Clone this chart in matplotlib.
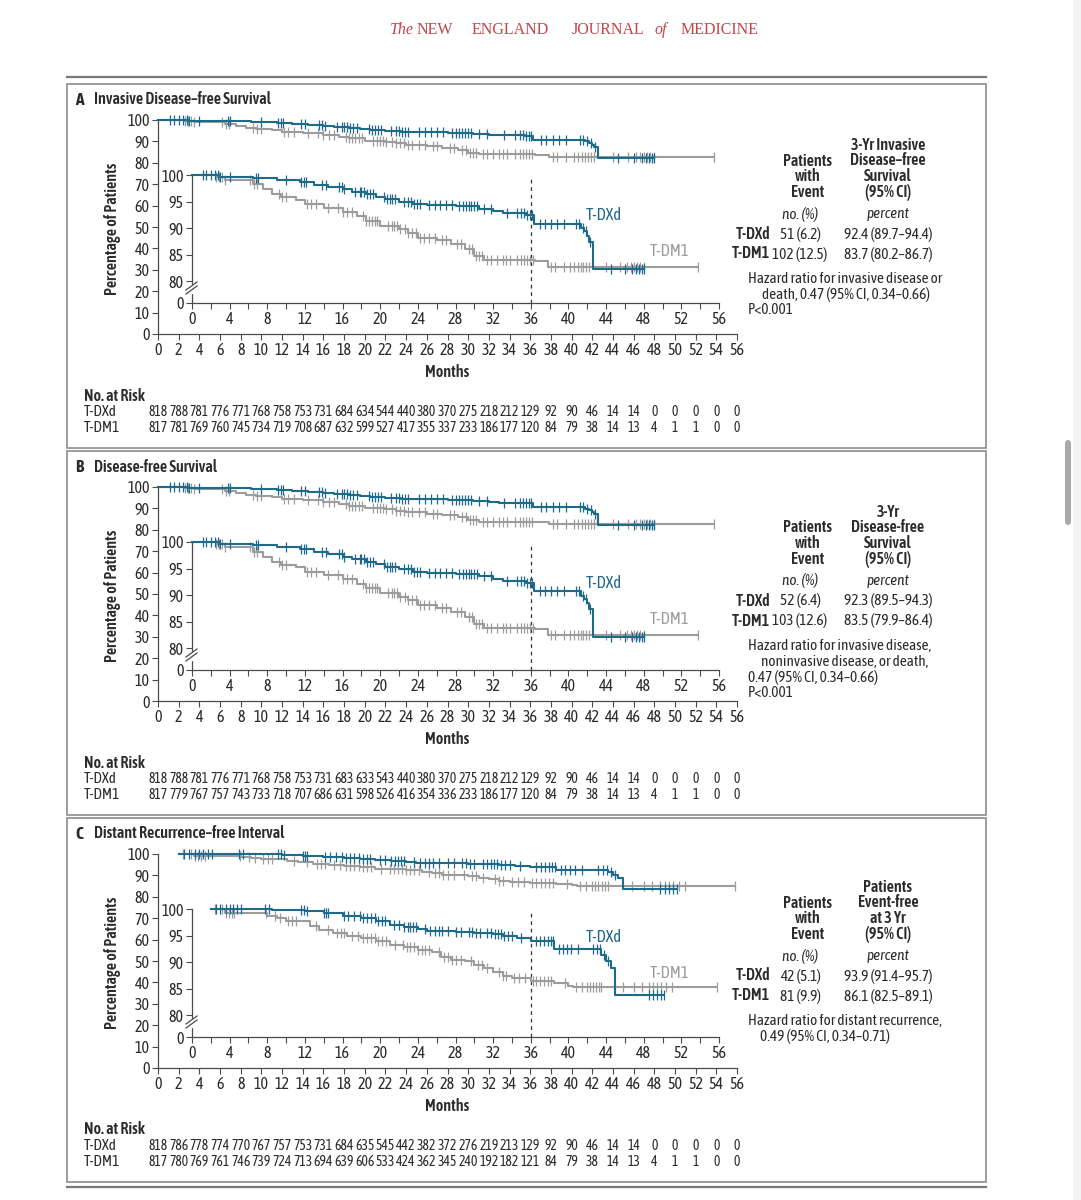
import numpy as np
import matplotlib.pyplot as plt
from matplotlib.lines import Line2D
from matplotlib.patches import Rectangle, FancyBboxPatch
from matplotlib import transforms

# ---------------- data ----------------
months_risk = list(range(0, 57, 2))

# Panel A - invasive disease-free survival
a_dxd_t = [0, 3, 6.5, 9, 11.5, 13, 14.5, 16, 17, 18.5, 19.5, 20.5, 22, 23.5, 25, 28, 30.5, 32, 33, 35.5, 36.3, 41.3, 41.7, 42.0, 42.2, 42.6, 48.0]
a_dxd_s = [100, 99.7, 99.4, 99.1, 98.6, 98.2, 97.8, 97.3, 96.8, 96.4, 95.9, 95.4, 95.0, 94.5, 94.3, 94.1, 93.6, 93.2, 92.8, 92.4, 90.8, 90.0, 89.4, 88.5, 87.4, 82.2, 82.2]
a_dxd_cens = [1.2, 1.5, 2.0, 2.4, 2.8, 3.0, 4.0, 6.8, 7.0, 10.0, 11.6, 11.9, 12.1, 13.8, 14.2, 15.6, 15.9, 16.2, 17.3, 17.8, 18.0, 18.3, 18.6, 18.9, 19.2,
              20.4, 20.7, 21.0, 21.3, 21.6, 22.5, 23.0, 23.3, 23.6, 23.9, 24.2, 25.2, 25.8, 26.4, 27.0, 27.6, 28.4, 28.8, 29.1, 29.4, 29.7, 30.0, 30.3,
              31.0, 31.8, 33.5, 34.5, 35.0, 35.3, 35.6, 35.9, 36.1, 37.0, 37.5, 38.2, 38.8, 39.5, 40.8, 41.1, 41.5, 41.9, 42.3, 44.5, 46.0, 46.8, 47.2,
              47.5, 47.8, 48.0]
a_dm1_t = [0, 2.5, 3.5, 6.5, 7.5, 8.5, 9.5, 11, 12, 14, 16, 17.5, 18.5, 20, 22, 23, 24, 26, 27.5, 29, 30, 31, 36.5, 37.8, 53.8]
a_dm1_s = [100, 99.6, 99.1, 98.3, 97.3, 96.4, 95.8, 95.3, 94.5, 93.8, 93.1, 92.2, 91.4, 90.4, 89.8, 89.1, 88.2, 87.7, 86.9, 86.0, 84.7, 84.0, 83.8, 82.6, 82.6]
a_dm1_cens = [2.6, 2.9, 3.2, 3.5, 6.2, 6.6, 6.9, 9.2, 9.6, 10.0, 12.2, 12.6, 13.2, 14.5, 15.5, 16.0, 16.5, 17.0, 18.2, 18.5, 18.8, 19.1, 19.4, 19.7,
              20.8, 21.2, 21.5, 21.8, 22.1, 22.6, 23.0, 23.4, 23.8, 24.2, 24.6, 25.2, 25.8, 26.6, 27.0, 28.2, 28.6, 29.4, 29.8, 30.2, 30.5, 30.8,
              31.4, 31.8, 32.4, 33.0, 33.4, 33.8, 34.5, 35.0, 35.3, 35.6, 35.9, 36.2, 38.2, 38.6, 39.5, 40.2, 40.6, 41.0, 41.3, 41.6, 41.9, 42.2,
              44.0, 45.5, 46.2, 46.6, 47.0, 47.3, 47.6, 48.0, 53.8]
a_risk_dxd = [818, 788, 781, 776, 771, 768, 758, 753, 731, 684, 634, 544, 440, 380, 370, 275, 218, 212, 129, 92, 90, 46, 14, 14, 0, 0, 0, 0, 0]
a_risk_dm1 = [817, 781, 769, 760, 745, 734, 719, 708, 687, 632, 599, 527, 417, 355, 337, 233, 186, 177, 120, 84, 79, 38, 14, 13, 4, 1, 1, 0, 0]

# Panel B - disease-free survival
b_dxd_t = [0, 3, 6.5, 9, 11.5, 13, 14.5, 16, 17, 18.5, 19.5, 20.5, 22, 23.5, 25, 28, 30.5, 32, 33, 35.5, 36.3, 41.3, 41.7, 42.0, 42.2, 42.6, 48.0]
b_dxd_s = [100, 99.7, 99.4, 99.1, 98.6, 98.2, 97.8, 97.2, 96.7, 96.3, 95.8, 95.3, 94.9, 94.4, 94.2, 94.0, 93.5, 93.1, 92.7, 92.3, 90.7, 89.9, 89.3, 88.4, 87.3, 82.1, 82.1]
b_dxd_cens = [1.2, 1.5, 2.0, 2.4, 2.8, 3.0, 4.0, 6.8, 7.0, 10.0, 11.6, 11.9, 12.1, 13.8, 14.2, 15.6, 15.9, 16.2, 17.3, 17.8, 18.0, 18.3, 18.6, 18.9, 19.2,
              20.4, 20.7, 21.0, 21.3, 21.6, 22.5, 23.0, 23.3, 23.6, 23.9, 24.2, 25.2, 25.8, 26.4, 27.0, 27.6, 28.4, 28.8, 29.1, 29.4, 29.7, 30.0, 30.3,
              31.0, 31.8, 33.5, 34.5, 35.0, 35.3, 35.6, 35.9, 36.1, 37.0, 37.5, 38.2, 38.8, 39.5, 40.8, 41.1, 41.5, 41.9, 42.3, 44.5, 46.0, 46.8, 47.2,
              47.5, 47.8, 48.0]
b_dm1_t = [0, 2.5, 3.5, 6.5, 7.5, 8.5, 9.5, 11, 12, 14, 16, 17.5, 18.5, 20, 22, 23, 24, 26, 27.5, 29, 30, 31, 36.5, 37.8, 53.8]
b_dm1_s = [100, 99.6, 99.0, 98.2, 97.2, 96.3, 95.7, 95.2, 94.4, 93.7, 93.0, 92.1, 91.3, 90.3, 89.7, 89.0, 88.1, 87.6, 86.8, 85.9, 84.6, 83.8, 83.6, 82.5, 82.5]
b_dm1_cens = [2.6, 2.9, 3.2, 3.5, 6.2, 6.6, 6.9, 9.2, 9.6, 10.0, 12.2, 12.6, 13.2, 14.5, 15.5, 16.0, 16.5, 17.0, 18.2, 18.5, 18.8, 19.1, 19.4, 19.7,
              20.8, 21.2, 21.5, 21.8, 22.1, 22.6, 23.0, 23.4, 23.8, 24.2, 24.6, 25.2, 25.8, 26.6, 27.0, 28.2, 28.6, 29.4, 29.8, 30.2, 30.5, 30.8,
              31.4, 31.8, 32.4, 33.0, 33.4, 33.8, 34.5, 35.0, 35.3, 35.6, 35.9, 36.2, 38.2, 38.6, 39.5, 40.2, 40.6, 41.0, 41.3, 41.6, 41.9, 42.2,
              44.0, 45.5, 46.2, 46.6, 47.0, 47.3, 47.6, 48.0, 53.8]
b_risk_dxd = [818, 788, 781, 776, 771, 768, 758, 753, 731, 683, 633, 543, 440, 380, 370, 275, 218, 212, 129, 92, 90, 46, 14, 14, 0, 0, 0, 0, 0]
b_risk_dm1 = [817, 779, 767, 757, 743, 733, 718, 707, 686, 631, 598, 526, 416, 354, 336, 233, 186, 177, 120, 84, 79, 38, 14, 13, 4, 1, 1, 0, 0]

# Panel C - distant recurrence-free interval
c_dxd_t = [2.0, 8.5, 12, 14, 16, 18, 19.5, 21, 22.5, 24, 25, 28, 30, 32, 33, 34.5, 36, 38.5, 43.5, 44.0, 44.5, 45.0, 50.2]
c_dxd_s = [100, 99.8, 99.6, 99.2, 98.7, 98.3, 97.7, 97.0, 96.6, 96.2, 95.9, 95.6, 95.5, 95.3, 95.0, 94.5, 94.0, 92.4, 91.4, 90.1, 88.8, 83.8, 83.8]
c_dxd_cens = [2.5, 3.0, 3.6, 4.0, 4.4, 4.8, 5.2, 7.8, 8.2, 11.6, 11.9, 12.2, 14.0, 14.2, 14.4, 16.2, 16.6, 17.2, 17.8, 18.2, 18.6, 19.0, 19.4, 19.8,
              20.2, 20.5, 21.5, 22.0, 22.5, 22.9, 23.2, 23.5, 23.8, 24.8, 25.3, 25.8, 26.2, 26.6, 27.2, 28.0, 28.6, 29.4, 29.8, 30.2, 30.6, 31.4,
              31.8, 32.2, 32.5, 32.8, 33.2, 33.6, 34.0, 35.0, 36.6, 37.0, 37.4, 37.8, 38.1, 38.4, 39.0, 39.4, 39.8, 40.3, 41.0, 42.6, 43.0, 43.4,
              43.8, 44.2, 48.6, 49.0, 49.4, 49.8, 50.2]
c_dm1_t = [2.0, 3.5, 8, 9, 10, 12.5, 13.5, 15, 16.5, 18, 19.5, 21, 22.5, 24, 25.5, 26.5, 27.5, 29, 30, 31, 32, 33, 34, 36, 38.5, 40, 40.5, 55.8]
c_dm1_s = [100, 99.2, 98.6, 98.3, 97.8, 96.7, 96.1, 95.5, 95.0, 94.5, 93.9, 93.2, 92.8, 92.3, 91.8, 91.0, 90.4, 90.1, 89.5, 88.8, 88.1, 87.4, 86.9, 86.4, 86.1, 85.5, 85.2, 85.2]
c_dm1_cens = [2.4, 3.2, 3.6, 3.9, 4.2, 4.5, 7.9, 8.8, 9.4, 10.2, 10.6, 11.0, 13.2, 14.4, 15.4, 15.8, 16.2, 17.0, 17.6, 18.2, 18.6, 19.0, 19.4, 19.8,
              20.2, 20.6, 21.6, 22.4, 22.8, 23.2, 23.6, 24.0, 24.4, 24.8, 25.2, 26.2, 26.8, 27.2, 27.6, 28.0, 28.6, 29.6, 30.4, 30.8, 31.4, 32.6,
              33.0, 33.4, 34.2, 34.8, 35.4, 36.2, 36.6, 37.0, 37.4, 37.8, 38.2, 39.6, 40.8, 41.4, 42.0, 42.3, 42.6, 42.9, 43.2, 43.5, 45.8, 47.0,
              47.8, 48.6, 49.0, 49.4, 49.8, 50.4, 51.0, 55.8]
c_risk_dxd = [818, 786, 778, 774, 770, 767, 757, 753, 731, 684, 635, 545, 442, 382, 372, 276, 219, 213, 129, 92, 90, 46, 14, 14, 0, 0, 0, 0, 0]
c_risk_dm1 = [817, 780, 769, 761, 746, 739, 724, 713, 694, 639, 606, 533, 424, 362, 345, 240, 192, 182, 121, 84, 79, 38, 14, 13, 4, 1, 1, 0, 0]

# curve labels inside the insets (month, percent)
a_labels = [(43.8, 92.4), (50.7, 85.5)]
b_labels = [(43.8, 92.1), (50.7, 85.3)]
c_labels = [(43.8, 94.6), (50.7, 87.9)]

# table texts
a_head = ["3-Yr Invasive", "Disease\u2013free", "Survival", "(95% CI)"]
b_head = ["3-Yr", "Disease-free", "Survival", "(95% CI)"]
c_head = ["Patients", "Event-free", "at 3 Yr", "(95% CI)"]
a_rows = [("T-DXd", "51 (6.2)", "92.4 (89.7\u201394.4)"), ("T-DM1", "102 (12.5)", "83.7 (80.2\u201386.7)")]
b_rows = [("T-DXd", "52 (6.4)", "92.3 (89.5\u201394.3)"), ("T-DM1", "103 (12.6)", "83.5 (79.9\u201386.4)")]
c_rows = [("T-DXd", "42 (5.1)", "93.9 (91.4\u201395.7)"), ("T-DM1", "81 (9.9)", "86.1 (82.5\u201389.1)")]
a_hr = [("Hazard ratio for invasive disease or", 0), ("death, 0.47 (95% CI, 0.34\u20130.66)", 14), ("P<0.001", 0)]
b_hr = [("Hazard ratio for invasive disease,", 0), ("noninvasive disease, or death,", 13), ("0.47 (95% CI, 0.34\u20130.66)", 0), ("P<0.001", 0)]
c_hr = [("Hazard ratio for distant recurrence,", 0), ("0.49 (95% CI, 0.34\u20130.71)", 12)]

# ---------------- style ----------------
W, H = 1081, 1200
BLUE = "#1e6a8b"
GRAY = "#9c9c9c"
INK = "#2b2b2b"
AX = "#4a4a4a"
FRAME = "#8c8c8c"
SANS = ["Asap Condensed", "Liberation Sans", "DejaVu Sans"]
plt.rcParams["font.family"] = SANS

fig = plt.figure(figsize=(W / 100, H / 100), dpi=100)
fig.patch.set_facecolor("white")


def fx(x):
    return x / W


def fy(y):
    return 1 - y / H


def px_axes(x0, y0, x1, y1):
    return fig.add_axes([fx(x0), fy(y1), fx(x1) - fx(x0), fy(y0) - fy(y1)])


def fline(x0, y0, x1, y1, **kw):
    fig.add_artist(Line2D([fx(x0), fx(x1)], [fy(y0), fy(y1)], transform=fig.transFigure, **kw))


def ftext(x, y, s, **kw):
    kw.setdefault("color", INK)
    kw.setdefault("va", "center")
    fig.text(fx(x), fy(y), s, **kw)


def km_at(t, s, c):
    idx = np.searchsorted(t, c, side="right") - 1
    return np.asarray(s)[idx]


def style_axes(ax):
    for side in ("top", "right"):
        ax.spines[side].set_visible(False)
    for side in ("left", "bottom"):
        ax.spines[side].set_color(AX)
        ax.spines[side].set_linewidth(0.9)
    ax.patch.set_alpha(0)
    ax.tick_params(direction="out", length=4, width=0.8, color=AX, labelcolor=INK, labelsize=11.5, pad=2)


def draw_curves(ax, t, s, cens, col, z):
    ax.step(t, s, where="post", color=col, lw=1.5, clip_on=False, zorder=z)
    ax.plot(cens, km_at(t, s, cens), ls="none", marker="|", ms=6.5, mew=0.9, color=col, clip_on=False, zorder=z)


def panel(off, letter, title, dxd, dm1, risk_dxd, risk_dm1, labels, head, rows, hr, toff):
    # frame
    fig.add_artist(Rectangle((fx(67), fy(off + 448)), fx(986) - fx(67), fy(off + 84) - fy(off + 448),
                             transform=fig.transFigure, fill=False, ec=FRAME, lw=1.2))
    ftext(75, off + 100, letter, fontsize=12.5, fontweight="bold")
    ftext(94, off + 100, title, fontsize=11.5, fontweight="semibold")

    # main axes
    ax = px_axes(158, off + 120, 737, off + 334)
    style_axes(ax)
    ax.set_xlim(0, 56)
    ax.set_ylim(0, 100)
    ax.set_xticks(range(0, 57, 2))
    ax.set_yticks(range(0, 101, 10))
    ax.set_xlabel("Months", fontsize=11.5, fontweight="semibold", color=INK)
    ax.set_ylabel("Percentage of Patients", fontsize=11.5, fontweight="semibold", color=INK)
    ax.xaxis.set_label_coords(0.5, -0.142)
    ax.yaxis.set_label_coords(-0.064, 0.49)
    draw_curves(ax, dm1[0], dm1[1], dm1[2], GRAY, 3)
    draw_curves(ax, dxd[0], dxd[1], dxd[2], BLUE, 4)

    # inset axes (80-100, broken)
    ins = px_axes(192, off + 175, 719, off + 303)
    style_axes(ins)
    ins.set_xlim(0, 56)
    ins.set_ylim(75.85, 100)
    ins.set_xticks(range(0, 57, 4))
    ins.set_xticks(range(0, 57, 2), minor=True)
    ins.tick_params(which="minor", direction="out", length=4, width=0.8, color=AX)
    ins.set_yticks([75.85, 80, 85, 90, 95, 100])
    ins.set_yticklabels(["0", "80", "85", "90", "95", "100"])
    ins.axvline(36, ymin=0, ymax=0.99, color="#333333", lw=0.9, ls=(0, (3, 3)), zorder=2)
    draw_curves(ins, dm1[0], dm1[1], dm1[2], GRAY, 3)
    draw_curves(ins, dxd[0], dxd[1], dxd[2], BLUE, 4)
    ins.text(labels[0][0], labels[0][1], "T-DXd", color=BLUE, fontsize=12, ha="center", va="center")
    ins.text(labels[1][0], labels[1][1], "T-DM1", color=GRAY, fontsize=12, ha="center", va="center")

    # axis break marks
    fig.add_artist(Rectangle((fx(189), fy(off + 293)), fx(195) - fx(189), fy(off + 285) - fy(off + 293),
                             transform=fig.transFigure, color="white", zorder=5))
    fline(186, off + 290, 197, off + 282, color=AX, lw=0.9, zorder=6)
    fline(186, off + 294, 197, off + 286, color=AX, lw=0.9, zorder=6)

    # number at risk
    ftext(84, off + 396, "No. at Risk", fontsize=11.5, fontweight="semibold")
    ftext(84, off + 412, "T-DXd", fontsize=11)
    ftext(84, off + 428, "T-DM1", fontsize=11)
    tr = transforms.blended_transform_factory(ax.transData, fig.transFigure)
    for m, n1, n2 in zip(months_risk, risk_dxd, risk_dm1):
        fig.text(m, fy(off + 412), str(n1), transform=tr, ha="center", va="center", fontsize=9.8, color=INK)
        fig.text(m, fy(off + 428), str(n2), transform=tr, ha="center", va="center", fontsize=9.8, color=INK)

    # table at right
    base = off + toff
    for i, line in enumerate(head):
        ftext(888, base + 145 + i * 15.7, line, ha="center", fontsize=11.5, fontweight="semibold")
    for i, line in enumerate(["Patients", "with", "Event"]):
        ftext(808, base + 161 + i * 15.7, line, ha="center", fontsize=11.5, fontweight="semibold")
    ftext(800, base + 214, "no. (%)", ha="center", fontsize=11, style="italic")
    ftext(888, base + 214, "percent", ha="center", fontsize=11, style="italic")
    for i, (lab, cnt, ci) in enumerate(rows):
        y = base + 234 + i * 20
        ftext(770, y, lab, ha="right", fontsize=11.5, fontweight="semibold")
        ftext(800, y, cnt, ha="center", fontsize=11)
        ftext(888, y, ci, ha="center", fontsize=11)
    for i, (line, ind) in enumerate(hr):
        ftext(748 + ind, base + 279 + i * 15.7, line, ha="left", fontsize=11)


panel(0, "A", "Invasive Disease\u2013free Survival", (a_dxd_t, a_dxd_s, a_dxd_cens), (a_dm1_t, a_dm1_s, a_dm1_cens),
      a_risk_dxd, a_risk_dm1, a_labels, a_head, a_rows, a_hr, 0)
panel(367, "B", "Disease-free Survival", (b_dxd_t, b_dxd_s, b_dxd_cens), (b_dm1_t, b_dm1_s, b_dm1_cens),
      b_risk_dxd, b_risk_dm1, b_labels, b_head, b_rows, b_hr, 0)
panel(734, "C", "Distant Recurrence\u2013free Interval", (c_dxd_t, c_dxd_s, c_dxd_cens), (c_dm1_t, c_dm1_s, c_dm1_cens),
      c_risk_dxd, c_risk_dm1, c_labels, c_head, c_rows, c_hr, 8)

# journal header and rules
RED = "#c2454b"
SERIF = ["Liberation Serif", "DejaVu Serif"]
for word, xc, it in [("The", 402, True), ("NEW", 435, False), ("ENGLAND", 510, False), ("JOURNAL", 608, False),
                     ("of", 661, True), ("MEDICINE", 720, False)]:
    ftext(xc, 30, word, family=SERIF, style="italic" if it else "normal", fontsize=11.5, color=RED, ha="center")
fline(67, 77, 986, 77, color="#777777", lw=1.6)
fline(67, 1187, 986, 1187, color="#777777", lw=1.6)

# screenshot scrollbar
fig.add_artist(Rectangle((fx(1073), 0), fx(1081) - fx(1073), 1, transform=fig.transFigure, color="#f4f4f4", lw=0))
fig.add_artist(FancyBboxPatch((fx(1065), fy(525)), fx(1071) - fx(1065), fy(440) - fy(525),
                              boxstyle="round,pad=0,rounding_size=0.003", transform=fig.transFigure, color="#a9a9a9", lw=0))

fig.savefig("out.png", dpi=100)
